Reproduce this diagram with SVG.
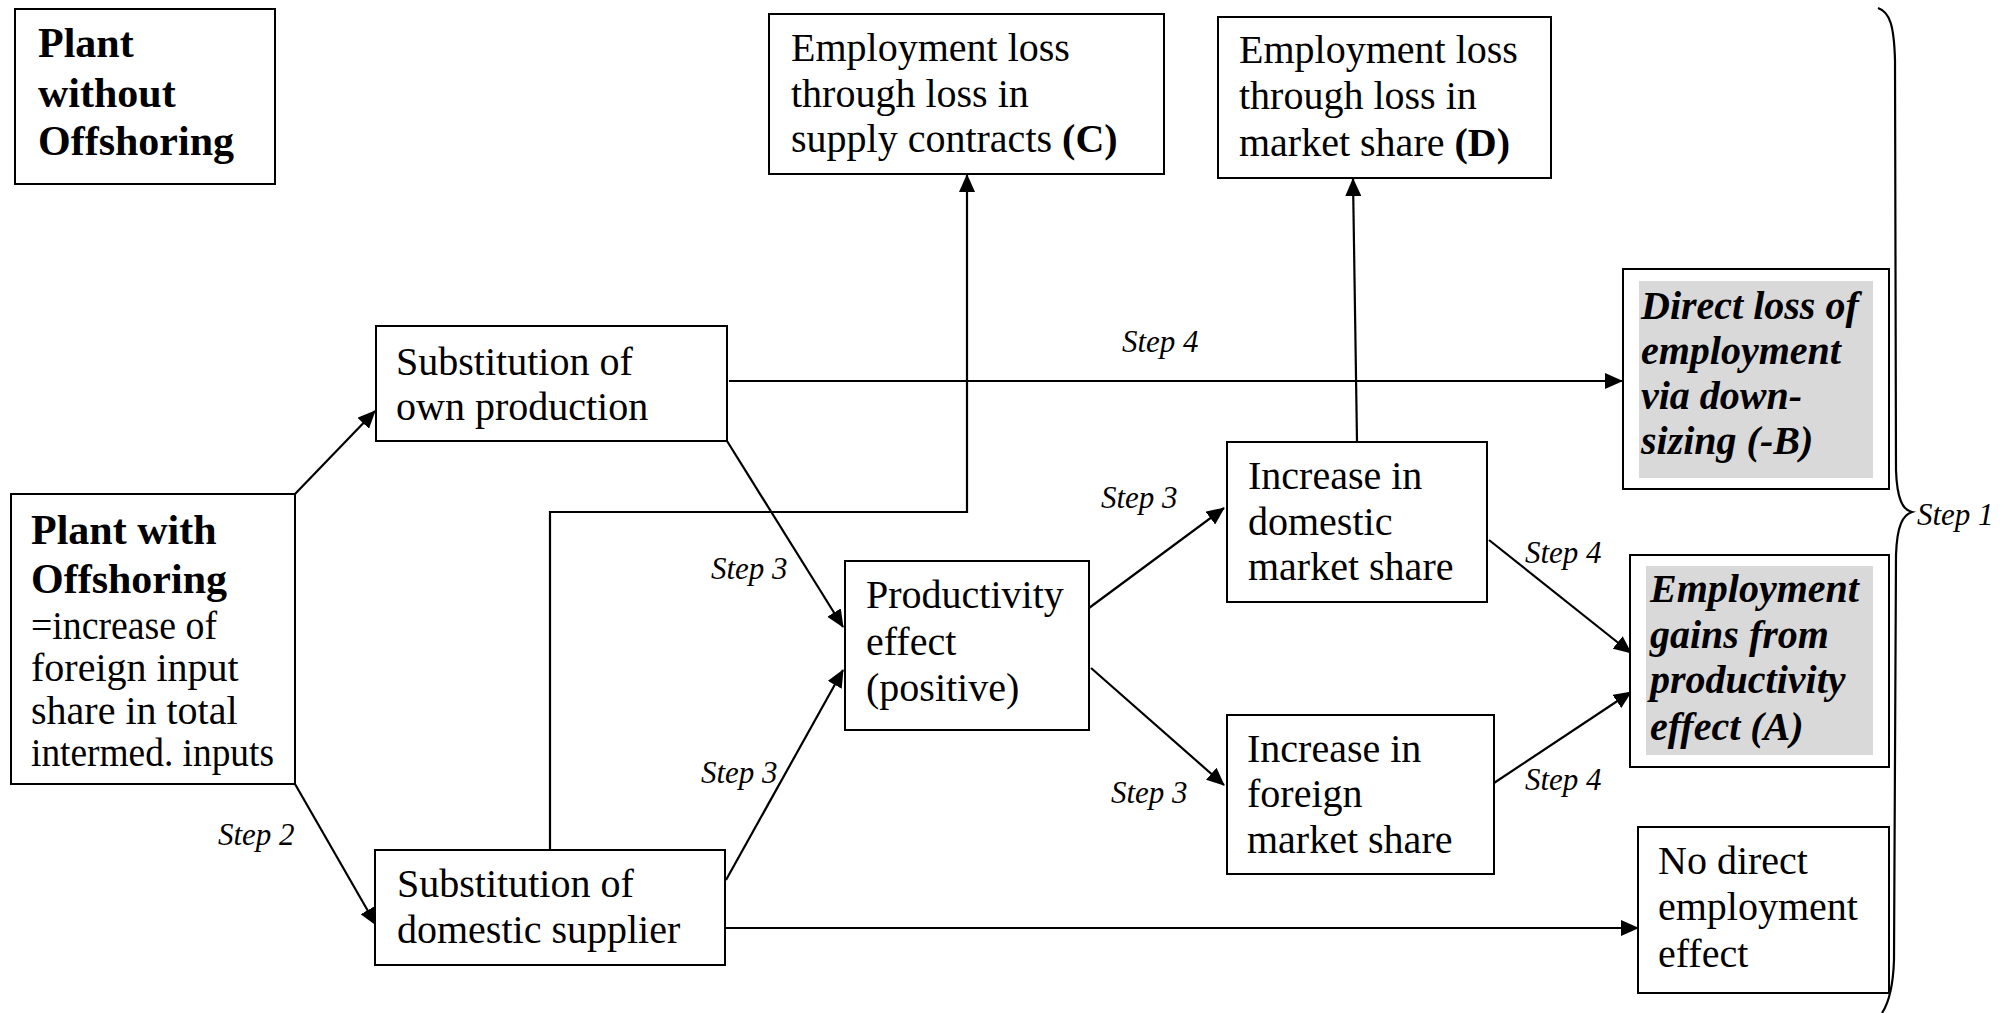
<svg xmlns="http://www.w3.org/2000/svg" width="2015" height="1013" viewBox="0 0 2015 1013">
<defs>
<marker id="arr" markerUnits="userSpaceOnUse" markerWidth="18" markerHeight="16" refX="17" refY="8" orient="auto">
<path d="M0,0 L18,8 L0,16 z" fill="#000"/>
</marker>
<style>
.box{fill:#fff;stroke:#000;stroke-width:2}
.shade{fill:#d9d9d9;stroke:none}
.t{font-family:'Liberation Serif','Times New Roman',serif;font-size:40px;fill:#000}
.tb{font-family:'Liberation Serif','Times New Roman',serif;font-size:42px;font-weight:bold;fill:#000}
.tbi{font-family:'Liberation Serif','Times New Roman',serif;font-size:40px;font-weight:bold;font-style:italic;fill:#000}
.step{font-family:'Liberation Serif','Times New Roman',serif;font-size:31px;font-style:italic;fill:#000}
.c{fill:none;stroke:#000;stroke-width:2.2}
.ca{fill:none;stroke:#000;stroke-width:2.2;marker-end:url(#arr)}
</style>
</defs>
<rect width="2015" height="1013" fill="#fff"/>

<g id="connectors">
<path class="ca" d="M295,494 L375,411"/>
<path class="ca" d="M295,784 L376,925"/>
<path class="ca" d="M727,441 L843,627"/>
<path class="ca" d="M726,880 L843,670"/>
<path class="ca" d="M550,850 L550,512 L967,512 L967,175"/>
<path class="ca" d="M729,381 L1622,381"/>
<path class="ca" d="M1357,442 L1353,179"/>
<path class="ca" d="M1089,608 L1224,508"/>
<path class="ca" d="M1091,668 L1224,785"/>
<path class="ca" d="M1489,540 L1631,653"/>
<path class="ca" d="M1494,783 L1631,692"/>
<path class="ca" d="M725,928 L1638,928"/>
<path class="c" d="M1878,8 C1890,12 1894,26 1895,60 L1896,470 C1897,500 1903,510 1912,512 C1903,515 1897,525 1896,555 L1894,960 C1893,990 1888,1004 1882,1013"/>
<text class="step" x="218" y="845">Step 2</text>
<text class="step" x="711" y="579">Step 3</text>
<text class="step" x="701" y="783">Step 3</text>
<text class="step" x="1122" y="352">Step 4</text>
<text class="step" x="1101" y="508">Step 3</text>
<text class="step" x="1111" y="803">Step 3</text>
<text class="step" x="1525" y="563">Step 4</text>
<text class="step" x="1525" y="790">Step 4</text>
<text class="step" x="1917" y="525">Step 1</text>
</g>

<g id="plant-without">
<rect class="box" x="15" y="9" width="260" height="175"/>
<text class="tb" x="38" y="57">Plant</text>
<text class="tb" x="38" y="107">without</text>
<text class="tb" x="38" y="155">Offshoring</text>
</g>

<g id="loss-c">
<rect class="box" x="769" y="14" width="395" height="160"/>
<text class="t" x="791" y="61">Employment loss</text>
<text class="t" x="791" y="107">through loss in</text>
<text class="t" x="791" y="152">supply contracts <tspan font-weight="bold">(C)</tspan></text>
</g>

<g id="loss-d">
<rect class="box" x="1218" y="17" width="333" height="161"/>
<text class="t" x="1239" y="63">Employment loss</text>
<text class="t" x="1239" y="109">through loss in</text>
<text class="t" x="1239" y="156">market share <tspan font-weight="bold">(D)</tspan></text>
</g>

<g id="direct-loss-b">
<rect class="box" x="1623" y="269" width="266" height="220"/>
<rect class="shade" x="1639" y="281" width="234" height="197"/>
<text class="tbi" x="1641" y="319">Direct loss of</text>
<text class="tbi" x="1641" y="364">employment</text>
<text class="tbi" x="1641" y="409">via down-</text>
<text class="tbi" x="1641" y="454">sizing (-B)</text>
</g>

<g id="gains-a">
<rect class="box" x="1630" y="555" width="259" height="212"/>
<rect class="shade" x="1646" y="566" width="227" height="189"/>
<text class="tbi" x="1650" y="602">Employment</text>
<text class="tbi" x="1650" y="648">gains from</text>
<text class="tbi" x="1650" y="693">productivity</text>
<text class="tbi" x="1650" y="740">effect (A)</text>
</g>

<g id="no-direct">
<rect class="box" x="1638" y="827" width="251" height="166"/>
<text class="t" x="1658" y="874">No direct</text>
<text class="t" x="1658" y="920">employment</text>
<text class="t" x="1658" y="967">effect</text>
</g>

<g id="own-production">
<rect class="box" x="376" y="326" width="351" height="115"/>
<text class="t" x="396" y="375">Substitution of</text>
<text class="t" x="396" y="420">own production</text>
</g>

<g id="plant-with">
<rect class="box" x="11" y="494" width="284" height="290"/>
<text class="tb" x="31" y="544">Plant with</text>
<text class="tb" x="31" y="593">Offshoring</text>
<text class="t" x="31" y="639" textLength="186" lengthAdjust="spacingAndGlyphs">=increase of</text>
<text class="t" x="31" y="681">foreign input</text>
<text class="t" x="31" y="724">share in total</text>
<text class="t" x="31" y="766" textLength="243" lengthAdjust="spacingAndGlyphs">intermed. inputs</text>
</g>

<g id="domestic-supplier">
<rect class="box" x="375" y="850" width="350" height="115"/>
<text class="t" x="397" y="897">Substitution of</text>
<text class="t" x="397" y="943">domestic supplier</text>
</g>

<g id="productivity">
<rect class="box" x="845" y="561" width="244" height="169"/>
<text class="t" x="866" y="608">Productivity</text>
<text class="t" x="866" y="655">effect</text>
<text class="t" x="866" y="701">(positive)</text>
</g>

<g id="domestic-share">
<rect class="box" x="1227" y="442" width="260" height="160"/>
<text class="t" x="1248" y="489">Increase in</text>
<text class="t" x="1248" y="535">domestic</text>
<text class="t" x="1248" y="580">market share</text>
</g>

<g id="foreign-share">
<rect class="box" x="1227" y="715" width="267" height="159"/>
<text class="t" x="1247" y="762">Increase in</text>
<text class="t" x="1247" y="807">foreign</text>
<text class="t" x="1247" y="853">market share</text>
</g>
</svg>
